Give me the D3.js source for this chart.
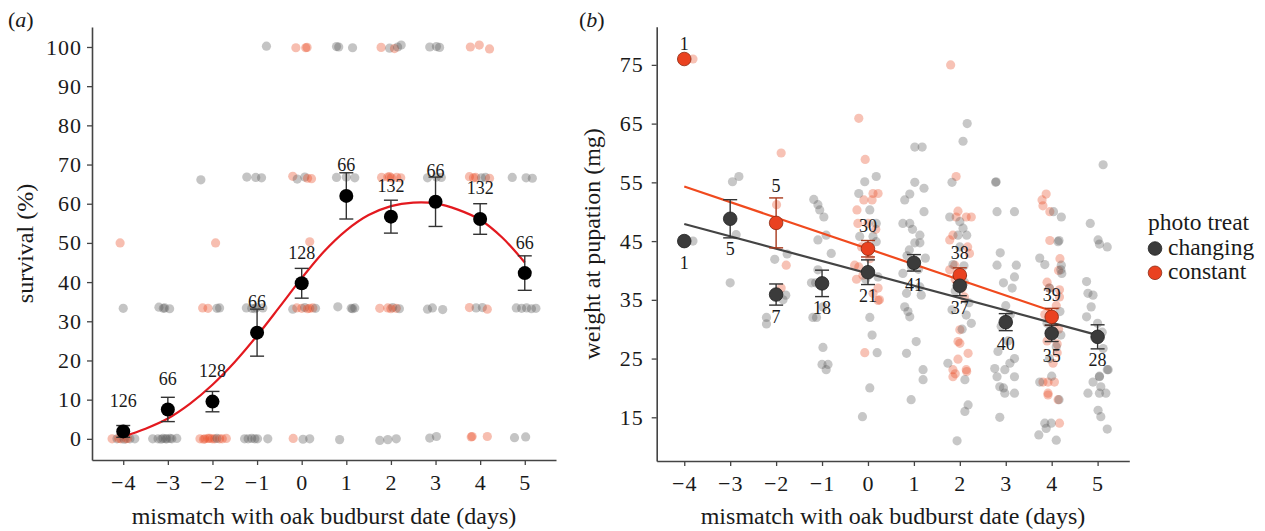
<!DOCTYPE html>
<html><head><meta charset="utf-8">
<script src="https://cdn.jsdelivr.net/npm/d3@7"></script>
<style>
html,body{margin:0;padding:0;background:#fff;}
svg{display:block;}
text{font-family:"Liberation Serif","Times New Roman",serif;fill:#1a1a1a;}
</style></head><body>
<svg id="fig" width="1265" height="531"></svg>
<script>
// ---- shared categories ----
const mismatch = [-4, -3, -2, -1, 0, 1, 2, 3, 4, 5];

// ---- panel (a): survival ----
const survTicks = [0, 10, 20, 30, 40, 50, 60, 70, 80, 90, 100];
const survMean = [1.9, 7.5, 9.5, 27.1, 39.7, 62.0, 56.7, 60.5, 56.1, 42.3];
const survSE   = [1.5, 3.1, 2.6, 6.0, 3.8, 5.9, 4.2, 6.3, 3.9, 4.4];
const survN    = [126, 66, 128, 66, 128, 66, 132, 66, 132, 66];
// fitted survival curve
const fitX = [-4, -3.5, -3, -2.5, -2, -1.5, -1, -0.5, 0, 0.5, 1, 1.5, 2, 2.5, 3, 3.5, 4, 4.5, 5];
const fitY = [0.6, 2.6, 5.2, 9.0, 13.8, 19.6, 26.3, 33.6, 41.0, 47.8, 53.2, 57.1, 59.4, 60.3, 60.1, 58.5, 55.9, 51.3, 45.0];
// per-family survival: [mismatch (jittered), survival %, treatment 0=changing 1=constant]
const survObs = [
  [-0.79,100.2,0],[-0.13,99.8,1],[0.09,99.8,1],[0.12,99.9,1],
  [0.78,100.1,0],[0.83,100,0],[1.14,99.8,0],
  [1.78,99.9,1],[1.97,99.7,0],[2.08,99.6,1],[2.15,100,0],[2.23,100.5,0],
  [2.87,100,0],[3.02,100.1,0],[3.09,99.9,0],
  [3.78,100,1],[3.98,100.5,1],[4.21,99.5,1],
  [-2.26,66.1,0],[-1.23,66.8,0],[-1.03,66.7,0],[-0.9,66.6,0],
  [-0.2,67,1],[-0.1,66.3,0],[0.07,66.8,0],[0.13,66.5,1],[0.22,66.4,1],
  [0.78,66.7,0],[1.0,66.8,0],[1.19,66.6,0],
  [1.79,66.7,1],[1.93,66.8,1],[2.01,66.6,1],[2.13,66.7,1],[2.22,66.6,1],[1.97,66.9,1],
  [2.82,66.6,0],[3.02,66.8,0],[3.13,66.7,0],
  [3.76,66.9,1],[3.9,66.7,1],[4.03,66.6,0],[4.12,66.7,0],[4.21,66.5,1],[3.85,66.6,1],
  [4.72,66.7,0],[5.03,66.6,0],[5.17,66.5,0],
  [-4.07,50,1],[-1.93,50,1],[0.18,50.3,1],
  [-4.0,33.3,0],
  [-3.2,33.6,0],[-3.07,33.4,0],[-2.96,33.2,0],[-3.1,33.3,0],
  [-2.22,33.4,1],[-2.1,33.3,1],[-1.84,33.4,0],[-1.9,33.3,0],
  [-1.24,33.4,0],[-1.12,33.3,0],[-1.01,33.5,0],[-0.87,33.4,0],[-1.05,33.2,0],
  [-0.2,33.1,0],[-0.11,33.4,1],[0,33.3,1],[0.07,33.5,0],[0.13,33.2,1],[0.25,33.4,1],[0.31,33.3,0],[0.18,33.3,1],
  [0.81,33.7,0],[1.11,33.3,0],[1.19,33.4,0],[1.14,33.2,0],
  [1.75,33.3,1],[1.93,33.4,1],[2.04,33.5,0],[2.12,33.3,1],[2.19,33.2,0],[2.0,33.2,1],
  [2.82,33.1,0],[2.93,33.4,0],[3.16,33.0,0],
  [3.76,33.5,1],[3.91,33.4,0],[4.05,33.5,0],[4.16,33.1,1],
  [4.81,33.4,0],[4.93,33.3,0],[5.04,33.4,0],[5.15,33.2,0],[5.25,33.3,0],
  [-4.25,0,1],[-4.14,0,0],[-4.05,0,1],[-3.94,0,1],[-3.85,0,0],[-3.74,0,0],[-4.1,0.1,1],[-3.98,-0.1,0],[-3.9,0.1,1],
  [-3.34,0,0],[-3.22,0,0],[-3.11,0.1,0],[-3.02,0,0],[-2.91,0,0],[-2.8,0.1,0],[-3.15,-0.1,0],[-3.05,0,0],[-2.95,0.1,0],
  [-2.28,0,1],[-2.17,0,1],[-2.06,0.1,1],[-1.95,0,1],[-1.84,0,1],[-1.69,0.1,1],[-2.2,-0.1,1],[-2.0,0,1],[-1.9,0.1,0],[-1.78,0,1],[-2.1,0.1,1],
  [-1.28,0,0],[-1.12,0.1,0],[-1.05,0,0],[-0.99,0,0],[-0.76,0,0],[-1.2,0,0],
  [-0.19,0.1,1],[0.03,-0.1,0],[0.18,0,0],
  [0.85,-0.2,0],
  [1.75,-0.4,0],[1.93,-0.2,0],[2.12,0,0],
  [2.87,0.2,0],[3.02,0.6,0],
  [3.8,0.5,1],[3.82,0.6,1],[4.16,0.6,1],
  [4.77,0.3,0],[5.02,0.5,0]
];

// ---- panel (b): weight at pupation ----
const weightTicks = [15, 25, 35, 45, 55, 65, 75];
const treatments = ["changing", "constant"];
const chgX    = [-4, -3, -2, -1, 0, 1, 2, 3, 4, 5];
const chgMean = [45.0, 48.8, 35.9, 37.8, 39.7, 41.3, 37.4, 31.2, 29.3, 28.7];
const chgSE   = [0, 3.25, 1.8, 2.25, 2.1, 1.4, 1.7, 1.45, 1.4, 2.05];
const chgN    = [1, 5, 7, 18, 21, 41, 37, 40, 35, 28];
const conX    = [-4, -2, 0, 2, 4];
const conMean = [76.0, 48.1, 43.7, 39.2, 32.1];
const conSE   = [0, 4.25, 1.4, 1.25, 1.45];
const conN    = [1, 5, 30, 38, 39];
// linear fits: endpoints [mismatch, weight]
const chgFit = [[-4, 47.9], [5, 29.0]];
const conFit = [[-4, 54.3], [4, 33.1]];
// individual pupae: [mismatch (jittered), weight mg, treatment]
const weightObs = [
  [-3.81,76,1],[-3.81,45,0],
  [-2.95,55.1,0],[-2.81,56,0],[-2.87,46.1,0],[-3.0,37.9,0],
  [-1.89,60,1],[-1.99,51.2,1],[-1.78,40.9,1],[-1.89,37,1],
  [-2.03,41.9,0],[-1.76,42.8,0],[-1.85,35,0],[-1.79,35.8,0],[-2.21,32,0],[-2.21,30.9,0],
  [-1.18,52.1,0],[-1.09,51.2,0],[-1.05,50.3,0],[-0.96,49.1,0],[-0.91,46,0],[-1.09,45.2,0],[-0.8,42.9,0],
  [-1.09,40.1,0],[-1.23,37.9,0],[-1.14,37.9,0],[-0.98,33.8,0],[-1.2,32,0],[-1.12,32,0],[-0.98,26.9,0],
  [-1.0,24,0],[-0.87,24,0],[-0.91,23.1,0],
  [-0.2,65.9,1],[-0.06,58.9,1],[-0.09,52,1],[0.11,53.1,1],[0.22,53.1,1],[-0.24,50.3,1],[0,48,1],[-0.22,48,1],
  [0.09,52,1],[-0.2,40.6,1],[-0.11,39.2,1],[-0.29,40.9,1],[0.11,36.1,1],[0.22,37,1],[0.22,34.9,1],[0.25,35,1],
  [-0.07,26,1],[-0.14,44,1],[0.17,47,1],[-0.25,38.5,1],[0.04,42,1],
  [0.18,56,0],[-0.07,55.1,0],[-0.2,53.1,0],[0.04,50.3,0],[0.18,48,0],[-0.18,45.8,0],[0.11,45.8,0],[0.18,44.9,0],
  [0.22,38.9,0],[0.04,32,0],[0.09,29,0],[0.2,26,0],[0.04,20,0],[-0.12,15.1,0],[-0.05,38.5,0],
  [1.02,61,0],[1.18,61,0],[1.02,55,0],[1.22,54,0],[0.91,53,0],[0.8,52,0],[1.22,50,0],[0.76,48,0],[0.91,48,0],
  [0.97,47,0],[1.13,46,0],[1.02,44.7,0],[1.13,44.7,0],[1.25,42.1,0],[0.76,39.5,0],[1.13,37.2,0],[0.84,36.1,0],
  [1.16,35.8,0],[0.8,33.8,0],[0.87,33,0],[0.91,32.1,0],[1.05,27.9,0],[0.84,25.9,0],[1.2,23.1,0],[1.2,21.4,0],
  [0.94,18,0],[0.9,43.5,0],[1.05,41.5,0],[0.95,40.5,0],[1.1,40.2,0],[0.85,42.5,0],
  [1.8,75,1],[1.92,56,1],[1.96,50.1,1],[1.92,49.1,1],[2.14,49.1,1],[2.25,49.1,1],[1.85,46,1],[1.78,45.2,1],
  [2.17,44,1],[2.21,42.9,1],[1.89,40.9,1],[1.78,40.1,1],[1.9,38.5,1],[2.05,37,1],[2.1,35.5,1],[2.0,29.9,1],
  [1.96,27.9,1],[2.18,25.9,1],[1.96,24.9,1],[1.85,23.1,1],[2.14,23.1,1],[1.9,22.4,1],[1.85,21.9,1],[2.0,27.6,1],[2.15,22.8,1],
  [2.16,65,0],[2.07,62,0],[1.83,55,0],[1.78,49.1,0],[2.0,48.3,0],[2.07,47.2,0],[1.96,46,0],[2.15,46,0],[2.0,44,0],
  [1.85,41,0],[2.09,40.8,0],[1.95,39,0],[2.1,38,0],[1.9,36.5,0],[2.2,34.5,0],[1.83,33.3,0],[2.14,32.4,0],[2.25,31,0],
  [2.05,30,0],[1.74,24.2,0],[2.11,21.4,0],[2.18,17.1,0],[2.11,16,0],[1.94,11,0],
  [2.78,55,0],[2.79,55.1,0],[2.81,50,0],[3.19,50,0],[2.88,43,0],[2.81,40.9,0],[3.23,40.9,0],[3.19,38.9,0],[2.95,37.9,0],
  [3.14,37,0],[3.0,34,0],[3.1,32.5,0],[2.9,30.5,0],[3.05,28,0],[2.83,26.2,0],[3.19,25,0],[3.09,24.2,0],[2.76,23.3,0],
  [2.98,23.1,0],[3.19,21.9,0],[2.81,21.9,0],[2.87,20.2,0],[2.95,20,0],[2.98,19.1,0],[3.19,19.1,0],[2.87,15,0],
  [3.88,53,1],[3.79,52,1],[3.81,51,1],[3.96,50,1],[3.96,45.1,1],[4.18,42,1],[4.15,40,1],[3.9,38,1],[4.17,36.7,1],
  [4.17,35.5,1],[4.1,34,1],[3.85,32.5,1],[4.15,30,1],[3.9,28,1],[4.12,26,1],[4.03,24.2,1],[3.81,21,1],[3.92,21,1],
  [4.06,21,1],[3.92,19.1,1],[4.14,18,1],[3.92,18.8,1],[4.17,14,1],[4.12,27.5,1],[3.95,37,1],
  [4.04,50,0],[4.21,49.1,0],[4.16,45.1,0],[4.14,44.9,0],[3.74,42.1,0],[3.85,41,0],[4.21,40.9,0],[4.2,40.1,0],
  [4.22,39.5,0],[3.95,37,0],[4.18,33,0],[3.9,31,0],[4.2,29,0],[4.1,27,0],[3.95,25,0],[4.0,22,0],[3.74,21,0],
  [4.16,18,0],[3.85,14,0],[3.99,14,0],[3.72,12,0],[4.1,11.1,0],[3.88,13.1,0],
  [5.12,58,0],[4.84,48,0],[5.01,45.2,0],[5.04,44.5,0],[5.21,44,0],[4.76,38.1,0],[4.79,36.1,0],[4.9,35.8,0],
  [4.86,33.8,0],[4.76,32.1,0],[5.12,26.7,0],[5.23,23.1,0],[5.21,23.1,0],[5.04,22,0],[5.04,21.9,0],[4.9,21,0],
  [5.07,20.2,0],[4.79,19.1,0],[5.04,19.1,0],[5.18,19.1,0],[5.01,16.2,0],[5.07,15.1,0],[5.21,13,0],[5.0,31,0],[5.1,29.5,0]
];

// ---- styling ----
const GREY = "#555555", ORANGE = "#e8461e";
const obsColour = g => g === 0 ? GREY : ORANGE;
const AXIS = "#444444";
const N_OFFSET_A = 7.8;   // sample-size labels sit this many % above the mean
const N_OFFSET_B = 3.8;   // and this many mg off the mean in panel (b)

const svg = d3.select("#fig");
svg.append("rect").attr("width", 1265).attr("height", 531).attr("fill", "#fff");

function styleAxis(g, fs) {
  g.attr("font-family", null).attr("font-size", null);
  g.select(".domain").attr("stroke", AXIS).attr("stroke-width", 1.6);
  g.selectAll(".tick line").attr("stroke", AXIS).attr("stroke-width", 1.3);
  g.selectAll(".tick text").attr("font-size", fs).attr("fill", "#1a1a1a").attr("letter-spacing", "1px");
}

function panelAxes(x, y, yTicks, yPad, yTitle, yTitleX) {
  const [x0, x1] = x.range();
  const [yb, yt] = y.range();
  svg.append("g").attr("transform", `translate(0,${yb})`)
    .call(d3.axisBottom(x).tickValues(mismatch).tickFormat(d3.format("d"))
      .tickSize(5).tickSizeOuter(0).tickPadding(9))
    .call(g => styleAxis(g, 22));
  svg.append("g").attr("transform", `translate(${x0},0)`)
    .call(d3.axisLeft(y).tickValues(yTicks).tickFormat(d3.format("d"))
      .tickSize(5).tickSizeOuter(0).tickPadding(yPad))
    .call(g => styleAxis(g, 22));
  svg.append("text").attr("x", (x0 + x1) / 2).attr("y", 524)
    .attr("text-anchor", "middle").attr("font-size", 24)
    .text("mismatch with oak budburst date (days)");
  svg.append("text")
    .attr("transform", `translate(${yTitleX},${(yb + yt) / 2}) rotate(-90)`)
    .attr("text-anchor", "middle").attr("font-size", 24).text(yTitle);
}

function panelTag(x, letter) {
  const t = svg.append("text").attr("x", x).attr("y", 27).attr("font-size", 22);
  t.append("tspan").text("(");
  t.append("tspan").attr("font-style", "italic").text(letter);
  t.append("tspan").text(")");
}

// ================= panel (a) =================
const xA = d3.scaleLinear().domain([-4.7, 5.7]).range([92, 556]);
const yA = d3.scaleLinear().domain([-5.4, 105.1]).range([460, 27]);

panelTag(8, "a");
panelAxes(xA, yA, survTicks, 5, "survival (%)", 33);

const gA = svg.append("g");
gA.selectAll("circle.obs").data(survObs).join("circle")
  .attr("cx", d => xA(d[0])).attr("cy", d => yA(d[1])).attr("r", 4.6)
  .attr("fill", d => obsColour(d[2])).attr("fill-opacity", 0.35);

gA.append("path")
  .datum(fitX.map((v, i) => [v, fitY[i]]))
  .attr("d", d3.line().x(d => xA(d[0])).y(d => yA(d[1])).curve(d3.curveCatmullRom))
  .attr("fill", "none").attr("stroke", "#e3191f").attr("stroke-width", 2.2);

const survRows = mismatch.map((m, i) => ({ m, mean: survMean[i], se: survSE[i], n: survN[i] }));
const errA = gA.selectAll("g.err").data(survRows).join("g").attr("stroke", "#333").attr("stroke-width", 1.4);
errA.append("line").attr("x1", d => xA(d.m)).attr("x2", d => xA(d.m))
  .attr("y1", d => yA(d.mean - d.se)).attr("y2", d => yA(d.mean + d.se));
errA.append("line").attr("x1", d => xA(d.m) - 7).attr("x2", d => xA(d.m) + 7)
  .attr("y1", d => yA(d.mean + d.se)).attr("y2", d => yA(d.mean + d.se));
errA.append("line").attr("x1", d => xA(d.m) - 7).attr("x2", d => xA(d.m) + 7)
  .attr("y1", d => yA(d.mean - d.se)).attr("y2", d => yA(d.mean - d.se));
gA.selectAll("circle.mean").data(survRows).join("circle")
  .attr("cx", d => xA(d.m)).attr("cy", d => yA(d.mean)).attr("r", 7).attr("fill", "#000");
gA.selectAll("text.n").data(survRows).join("text")
  .attr("x", d => xA(d.m)).attr("y", d => yA(d.mean + N_OFFSET_A) + 6)
  .attr("text-anchor", "middle").attr("font-size", 18).text(d => d.n);

// ================= panel (b) =================
const xB = d3.scaleLinear().domain([-4.6, 5.69]).range([656.7, 1129.3]);
const yB = d3.scaleLinear().domain([7.56, 81.5]).range([461, 26.7]);

panelTag(579, "b");
panelAxes(xB, yB, weightTicks, 8, "weight at pupation (mg)", 600);

const gB = svg.append("g");
gB.selectAll("circle.obs").data(weightObs).join("circle")
  .attr("cx", d => xB(d[0])).attr("cy", d => yB(d[1])).attr("r", 4.6)
  .attr("fill", d => obsColour(d[2])).attr("fill-opacity", 0.33);

const lineB = d3.line().x(d => xB(d[0])).y(d => yB(d[1]));
gB.append("path").datum(chgFit).attr("d", lineB).attr("stroke", "#444").attr("stroke-width", 2.2).attr("fill", "none");
gB.append("path").datum(conFit).attr("d", lineB).attr("stroke", "#f04a1e").attr("stroke-width", 2.2).attr("fill", "none");

const groups = [
  { rows: conX.map((m, i) => ({ m, mean: conMean[i], se: conSE[i], n: conN[i] })),
    fill: "#ea4220", stroke: "#8c2a12", bar: "#a8391c", below: false },
  { rows: chgX.map((m, i) => ({ m, mean: chgMean[i], se: chgSE[i], n: chgN[i] })),
    fill: "#3b3b3b", stroke: "#222", bar: "#333", below: true }
];
// changing labels hang below the mean, constant labels sit above; both clear the error-bar caps
const labelY = (d, below) => below
  ? Math.max(yB(d.mean - N_OFFSET_B) + 6, yB(d.mean - d.se) + 17)
  : (d.se > 0 ? Math.min(yB(d.mean + N_OFFSET_B) + 6, yB(d.mean + d.se) - 6) : yB(d.mean) - 9);

groups.forEach(grp => {
  const withErr = grp.rows.filter(d => d.se > 0);
  const e = gB.append("g").attr("stroke", grp.bar).attr("stroke-width", 1.4)
    .selectAll("g").data(withErr).join("g");
  e.append("line").attr("x1", d => xB(d.m)).attr("x2", d => xB(d.m))
    .attr("y1", d => yB(d.mean - d.se)).attr("y2", d => yB(d.mean + d.se));
  e.append("line").attr("x1", d => xB(d.m) - 7).attr("x2", d => xB(d.m) + 7)
    .attr("y1", d => yB(d.mean + d.se)).attr("y2", d => yB(d.mean + d.se));
  e.append("line").attr("x1", d => xB(d.m) - 7).attr("x2", d => xB(d.m) + 7)
    .attr("y1", d => yB(d.mean - d.se)).attr("y2", d => yB(d.mean - d.se));
});
groups.forEach(grp => {
  gB.append("g").selectAll("circle").data(grp.rows).join("circle")
    .attr("cx", d => xB(d.m)).attr("cy", d => yB(d.mean)).attr("r", 6.8)
    .attr("fill", grp.fill).attr("stroke", grp.stroke).attr("stroke-width", 0.8);
  gB.append("g").selectAll("text").data(grp.rows).join("text")
    .attr("x", d => xB(d.m)).attr("y", d => labelY(d, grp.below))
    .attr("text-anchor", "middle").attr("font-size", 18).text(d => d.n);
});

// legend
const leg = svg.append("g");
leg.append("text").attr("x", 1148).attr("y", 230).attr("font-size", 23.5).text("photo treat");
const legFill = ["#3b3b3b", "#ea4220"], legStroke = ["#222", "#8c2a12"];
treatments.forEach((t, i) => {
  leg.append("circle").attr("cx", 1155).attr("cy", 248.5 + i * 24.3).attr("r", 6.8)
    .attr("fill", legFill[i]).attr("stroke", legStroke[i]).attr("stroke-width", 0.8);
  leg.append("text").attr("x", 1168).attr("y", 254.5 + i * 24.3).attr("font-size", 23.5).text(t);
});
</script></body></html>
